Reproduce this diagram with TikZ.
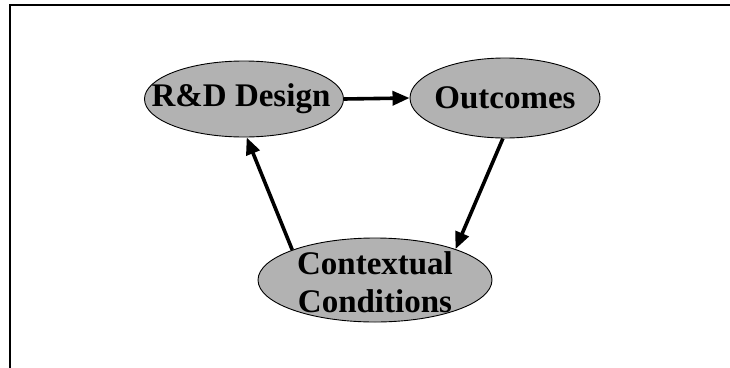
\documentclass[tikz,border=0pt]{standalone}
\usepackage{fontspec}
\setmainfont{Liberation Serif}
\usetikzlibrary{shapes.geometric,arrows.meta}
\definecolor{bubble}{gray}{0.70}
\tikzset{
  bubble/.style={ellipse, draw=black, line width=0.9pt, fill=bubble, inner sep=0pt},
  caption/.style={inner sep=0pt, align=center, font=\fontsize{33}{38}\selectfont\bfseries},
  flow/.style={line width=3.6pt, -{Triangle[length=17pt,width=14pt]}},
  frameline/.style={line width=2.2pt, line cap=rect}
}
\begin{document}
\begin{tikzpicture}[x=1pt,y=-1pt]
  \useasboundingbox (0,0) rectangle (730,367);
  % partial frame: top and left edges
  \coordinate (fTL) at (10,5);
  \coordinate (fTR) at (731,5);
  \coordinate (fBL) at (10,368);
  \draw[frameline] (fTR) -- (fTL) -- (fBL);

  % the three stages (ellipse outlines, then their labels)
  \node[bubble, minimum width=199pt, minimum height=76pt] (rd)  at (244,99) {};
  \node[bubble, minimum width=190pt, minimum height=80pt] (out) at (505,98) {};
  \node[bubble, minimum width=234pt, minimum height=84pt] (ctx) at (375,280) {};
  \node[caption] (rdtext)  at ([xshift=-3pt]rd.center)  {R\&D Design};
  \node[caption] (outtext) at (out.center) {Outcomes};
  \node[caption] (ctxtext) at ([yshift=-2pt]ctx.center) {Contextual\\Conditions};

  % cycle
  \draw[flow] (rd.east) -- (out.west);
  \draw[flow] (out.267) -- (ctx.21);
  \draw[flow] (ctx.160) -- (rd.274);
\end{tikzpicture}
\end{document}
